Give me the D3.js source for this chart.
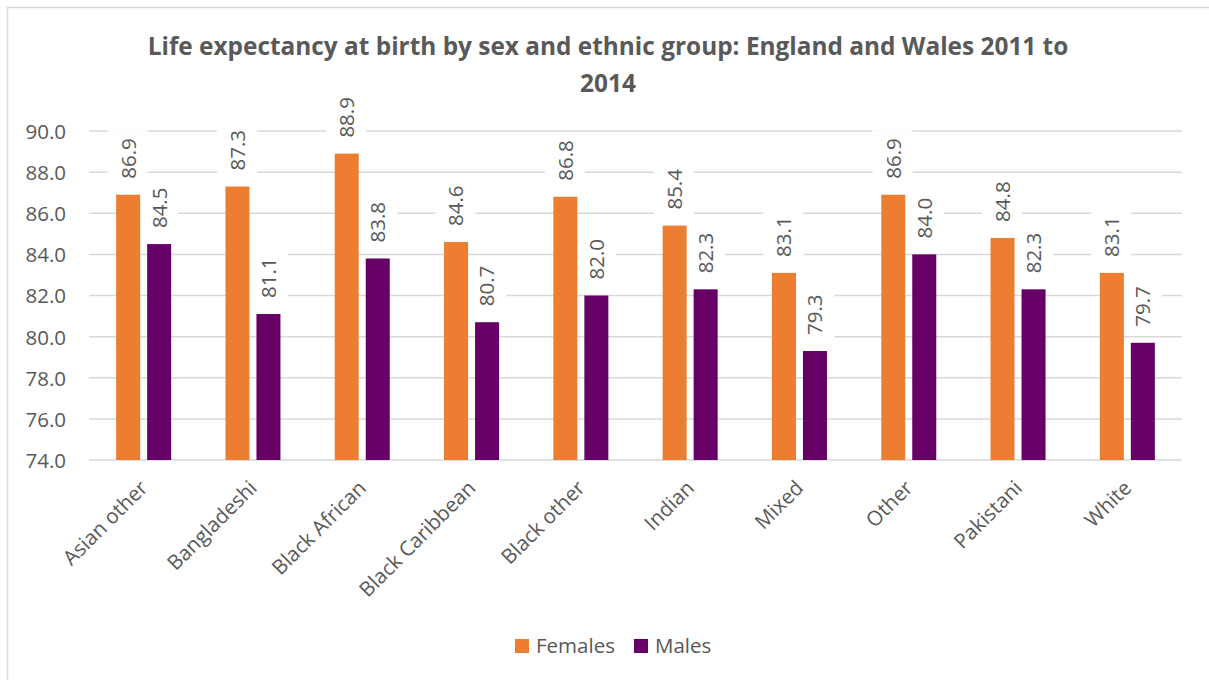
<!DOCTYPE html>
<html>
<head>
<meta charset="utf-8">
<script src="https://cdn.jsdelivr.net/npm/d3@7/dist/d3.min.js"></script>
<style>
  html, body { margin: 0; padding: 0; background: #fff; }
  svg { display: block; font-family: "Open Sans", sans-serif; }
</style>
</head>
<body>
<svg id="chart" width="1209" height="680"></svg>
<script>
// Life expectancy at birth (years), England and Wales 2011-2014
const categories = ["Asian other", "Bangladeshi", "Black African", "Black Caribbean", "Black other",
                    "Indian", "Mixed", "Other", "Pakistani", "White"];
const seriesNames = ["Females", "Males"];
const females = [86.9, 87.3, 88.9, 84.6, 86.8, 85.4, 83.1, 86.9, 84.8, 83.1];
const males   = [84.5, 81.1, 83.8, 80.7, 82.0, 82.3, 79.3, 84.0, 82.3, 79.7];
const yTicks  = [74, 76, 78, 80, 82, 84, 86, 88, 90];
const titleLines = ["Life expectancy at birth by sex and ethnic group: England and Wales 2011 to", "2014"];

const colors = { Females: "#ED7D31", Males: "#660066" };
const textColor = "#595959";
const gridColor = "#D9D9D9";
const fmt = d3.format(".1f");

const svg = d3.select("#chart");

// outer frame
svg.append("rect")
  .attr("x", 7.5).attr("y", 7.5).attr("width", 1220).attr("height", 690)
  .attr("fill", "#fff").attr("stroke", "#D9D9D9").attr("stroke-width", 1.5);

// title
const title = svg.append("text")
  .attr("text-anchor", "middle")
  .attr("fill", textColor)
  .attr("font-weight", "bold")
  .attr("font-size", 24.4);
titleLines.forEach((t, i) => {
  title.append("tspan").attr("x", 608).attr("y", 55 + i * 37).text(t);
});

const plot = { left: 89, right: 1182, top: 131, bottom: 460 };

const y = d3.scaleLinear().domain([74, 90]).range([plot.bottom, plot.top]);
const x0 = d3.scaleBand().domain(categories).range([plot.left, plot.right]);
const x1 = d3.scaleBand().domain(seriesNames).range([0, x0.bandwidth()])
  .paddingInner(7 / 31).paddingOuter(0.876);

// y tick labels
const yAxis = d3.axisLeft(y).tickValues(yTicks).tickFormat(fmt).tickSize(0).tickPadding(0);
const gy = svg.append("g").attr("transform", `translate(66,0)`).call(yAxis);
gy.select(".domain").remove();
gy.selectAll("text").attr("fill", textColor).attr("font-size", 20.5)
  .attr("font-family", "Open Sans, sans-serif").attr("dy", "0.36em");

// horizontal gridlines
svg.append("g").selectAll("line").data(yTicks).join("line")
  .attr("x1", plot.left).attr("x2", plot.right)
  .attr("y1", d => y(d)).attr("y2", d => y(d))
  .attr("stroke", gridColor).attr("stroke-width", 1.5);

const rows = categories.map((c, i) => ({ cat: c, values: [
  { series: "Females", value: females[i] },
  { series: "Males", value: males[i] }
]}));

// value labels (white boxes sit behind the bars, text on top)
const boxLayer = svg.append("g");
const barLayer = svg.append("g");
const textLayer = svg.append("g");

const labels = textLayer.selectAll("g").data(rows).join("g")
  .attr("transform", d => `translate(${x0(d.cat)},0)`)
  .selectAll("g").data(d => d.values).join("g")
  .attr("transform", d => `translate(${x1(d.series) + x1.bandwidth() / 2},${y(d.value) - 16}) rotate(-90)`);
labels.append("text")
  .attr("text-anchor", "start")
  .attr("dy", "0.36em")
  .attr("fill", textColor)
  .attr("font-size", 20.5)
  .text(d => fmt(d.value));
labels.each(function () {
  const node = this;
  const bb = d3.select(node).select("text").node().getBBox();
  boxLayer.append("g")
    .attr("transform", node.parentNode.getAttribute("transform") + " " + node.getAttribute("transform"))
    .append("rect")
    .attr("x", bb.x - 8).attr("y", bb.y - 6)
    .attr("width", bb.width + 16).attr("height", bb.height + 12)
    .attr("fill", "#fff");
});

// bars
barLayer.selectAll("g").data(rows).join("g")
  .attr("transform", d => `translate(${x0(d.cat)},0)`)
  .selectAll("rect").data(d => d.values).join("rect")
  .attr("x", d => x1(d.series))
  .attr("width", x1.bandwidth())
  .attr("y", d => y(d.value))
  .attr("height", d => y(74) - y(d.value))
  .attr("fill", d => colors[d.series]);

// category labels
const xAxis = d3.axisBottom(x0).tickSize(0).tickPadding(0);
const gx = svg.append("g").attr("transform", `translate(-2,${plot.bottom + 22})`).call(xAxis);
gx.select(".domain").remove();
gx.selectAll("text")
  .attr("fill", textColor)
  .attr("font-size", 20.5)
  .attr("font-family", "Open Sans, sans-serif")
  .attr("text-anchor", "end")
  .attr("dy", "0.5em")
  .attr("transform", "rotate(-45)");

// legend
const legend = svg.append("g").attr("transform", "translate(515,639)");
const legendX = [0, 119];
seriesNames.forEach((s, i) => {
  const item = legend.append("g").attr("transform", `translate(${legendX[i]},0)`);
  item.append("rect").attr("width", 14).attr("height", 14).attr("fill", colors[s]);
  item.append("text").attr("x", 21).attr("y", 14).attr("fill", textColor)
    .attr("font-size", 20.5).text(s);
});
</script>
</body>
</html>
